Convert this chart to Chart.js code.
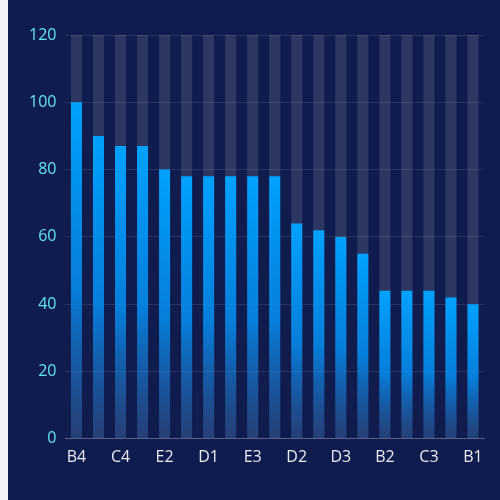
<!DOCTYPE html>
<html>
<head>
<meta charset="utf-8">
<script src="https://cdn.jsdelivr.net/npm/chart.js@4"></script>
<style>
  html, body { margin: 0; padding: 0; background: #f3f4f8; }
  #wrap { position: absolute; left: 8px; top: 0; width: 492px; height: 500px; background: #111c4e; }
</style>
</head>
<body>
<div id="wrap"><canvas id="bar-chart" width="492" height="500"></canvas></div>
<script>
const categories = ['B4', 'A1', 'C4', 'A2', 'E2', 'B3', 'D1', 'C1', 'E3', 'A3', 'D2', 'C2', 'D3', 'E1', 'B2', 'A4', 'C3', 'D4', 'B1'];
const values = [100, 90, 87, 87, 80, 78, 78, 78, 78, 78, 64, 62, 60, 55, 44, 44, 44, 42, 40];
const maxValues = categories.map(() => 120);
const yTicks = [0, 20, 40, 60, 80, 100, 120];

// per-bar vertical gradient, computed from the y scale
function barGradient(context) {
  const chart = context.chart;
  const yScale = chart.scales.y;
  if (!chart.chartArea || !yScale || context.raw === undefined) return '#00a2ff';
  const top = yScale.getPixelForValue(context.raw);
  const bottom = yScale.getPixelForValue(0);
  if (!isFinite(top) || !isFinite(bottom) || top === bottom) return '#00a2ff';
  const g = chart.ctx.createLinearGradient(0, top, 0, bottom);
  g.addColorStop(0, '#00a2ff');
  g.addColorStop(0.55, 'rgba(0, 140, 240, 0.85)');
  g.addColorStop(1, 'rgba(0, 110, 220, 0.15)');
  return g;
}

function loadChart() {
  const ctx = document.getElementById('bar-chart').getContext('2d');
  new Chart(ctx, {
    type: 'bar',
    data: {
      labels: categories,
      datasets: [
        {
          data: values,
          backgroundColor: barGradient,
          grouped: false,
          order: 0,
          categoryPercentage: 1,
          barPercentage: 0.5,
        },
        {
          data: maxValues,
          backgroundColor: 'rgba(255, 255, 255, 0.12)',
          grouped: false,
          order: 1,
          categoryPercentage: 1,
          barPercentage: 0.5,
        },
      ],
    },
    options: {
      responsive: false,
      animation: false,
      layout: { padding: { top: 35, right: 16, bottom: 32, left: 12 } },
      plugins: {
        legend: { display: false },
        tooltip: { enabled: false },
      },
      scales: {
        x: {
          grid: { display: false },
          border: { color: '#56608a', width: 1 },
          ticks: {
            color: '#e6eaf2',
            font: { family: 'Open Sans', size: 16 },
            autoSkip: false,
            maxRotation: 0,
            padding: 1,
            callback: (v, i) => (i % 2 === 0 ? categories[i] : ''),
          },
        },
        y: {
          min: 0,
          max: 120,
          afterBuildTicks: (axis) => { axis.ticks = yTicks.map((v) => ({ value: v })); },
          grid: { color: 'rgba(255, 255, 255, 0.1)', drawTicks: false },
          border: { display: false },
          ticks: {
            color: '#62e2f0',
            font: { family: 'Open Sans', size: 16 },
            padding: 9,
          },
        },
      },
    },
  });
}

window.onload = loadChart;
</script>
</body>
</html>
